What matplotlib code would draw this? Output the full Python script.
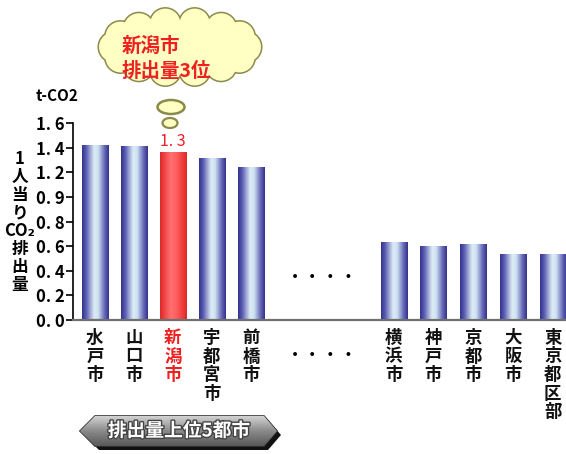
import numpy as np
import matplotlib.pyplot as plt
from matplotlib.colors import LinearSegmentedColormap
from matplotlib.patches import Ellipse, Circle, Polygon
import matplotlib.patheffects as pe
import matplotlib.transforms as mtransforms

plt.rcParams['font.family'] = ['Noto Sans CJK JP', 'DejaVu Sans']

# データ
cities_top = ['水戸市', '山口市', '新潟市', '宇都宮市', '前橋市']
cities_low = ['横浜市', '神戸市', '京都市', '大阪市', '東京都区部']
values_top = [1.42, 1.41, 1.36, 1.31, 1.24]
values_low = [0.63, 0.60, 0.61, 0.53, 0.53]
highlight = '新潟市'
highlight_label = '1. 3'
yticks = [0.0, 0.2, 0.4, 0.6, 0.8, 1.0, 1.2, 1.4, 1.6]
ytick_labels = ['0. 0', '0. 2', '0. 4', '0. 6', '0. 8', '0. 9', '1. 2', '1. 4', '1. 6']

# 位置
pos_top = np.arange(5)
pos_low = np.arange(5) * 1.02 + 7.66
cities = cities_top + cities_low
values = values_top + values_low
pos = np.concatenate([pos_top, pos_low])

fig = plt.figure(figsize=(5.66, 4.54), dpi=100)
ax = fig.add_axes([0.129, 0.295, 0.871, 0.434])

blue_cm = LinearSegmentedColormap.from_list('b', [
    (0.0, '#34348c'), (0.15, '#5a5cb2'), (0.45, '#dcecf6'),
    (0.6, '#cfe2f2'), (0.85, '#6466b6'), (1.0, '#34348c')])
red_cm = LinearSegmentedColormap.from_list('r', [
    (0.0, '#e02828'), (0.4, '#ff7070'), (0.6, '#ff6060'), (1.0, '#e02828')])
grad = np.linspace(0, 1, 64).reshape(1, -1)

bars = ax.bar(pos, values, width=0.67, color='none', zorder=2)
for b, name in zip(bars, cities):
    cm = red_cm if name == highlight else blue_cm
    ax.imshow(grad, cmap=cm, aspect='auto', zorder=2,
              extent=[b.get_x(), b.get_x() + b.get_width(), 0, b.get_height()])

ax.set_xlim(-0.56, 12.08)
ax.set_ylim(0, 1.6)

# 軸
for s in ['top', 'right']:
    ax.spines[s].set_visible(False)
ax.spines['bottom'].set_color('#707070')
ax.spines['bottom'].set_linewidth(1.6)
ax.spines['left'].set_linewidth(1.2)
ax.set_xticks([])
ax.set_yticks(yticks)
ax.set_yticklabels(ytick_labels, fontsize=12, fontweight='bold')
ax.tick_params(axis='y', length=5, width=1.2, pad=1)

# x ラベル(縦書き)
trans = mtransforms.blended_transform_factory(ax.transData, ax.transAxes)
for p, name in zip(pos, cities):
    ax.text(p, -0.045, '\n'.join(name), transform=trans, ha='center', va='top',
            fontsize=12.5, fontweight='bold', linespacing=1.04,
            color='#ee2020' if name == highlight else '#111111', clip_on=False)

# 値ラベル
hi = cities.index(highlight)
ax.text(pos[hi], values[hi] + 0.02, highlight_label, ha='center', va='bottom',
        fontsize=11.5, color='#ee2020')

# 省略記号
mid = (pos_top[-1] + pos_low[0]) / 2
ax.text(mid, 0.34, '・・・・', ha='center', va='center', fontsize=13)
ax.text(mid, -0.29, '・・・・', ha='center', va='center', fontsize=13, clip_on=False)

# y 軸タイトル
fig.text(20 / 566, 1 - 222 / 454, '1\n人\n当\nり\nCO₂\n排\n出\n量', ha='center', va='center',
         fontsize=12, fontweight='bold', linespacing=1.0)
fig.text(57 / 566, 1 - 96 / 454, 't-CO2', ha='center', va='center',
         fontsize=11, fontweight='bold')

# 吹き出し・バナー用オーバーレイ(ピクセル座標)
ov = fig.add_axes([0, 0, 1, 1], zorder=5)
ov.set_xlim(0, 566)
ov.set_ylim(454, 0)
ov.axis('off')
ov.patch.set_alpha(0)

cloud_fill = '#ffffc4'
cloud_edge = '#8a8a4a'
cx, cy, rx, ry = 180, 47, 66, 24
bumps = []
for t in np.linspace(0, 2 * np.pi, 14, endpoint=False):
    bumps.append((cx + rx * np.cos(t), cy + ry * np.sin(t)))
for (x, y) in bumps:
    ov.add_patch(Circle((x, y), 15, fc=cloud_fill, ec=cloud_edge, lw=2.2, zorder=1))
for (x, y) in bumps:
    ov.add_patch(Circle((x, y), 15, fc=cloud_fill, ec='none', zorder=2))
ov.add_patch(Ellipse((cx, cy), 2 * rx, 2 * ry, fc=cloud_fill, ec='none', zorder=2))
ov.add_patch(Ellipse((171, 107), 27, 14, fc=cloud_fill, ec=cloud_edge, lw=1.8, zorder=2))
ov.add_patch(Ellipse((170, 123), 15, 10, fc=cloud_fill, ec=cloud_edge, lw=1.6, zorder=2))
ov.text(122, 46, '新潟市', ha='left', va='center', fontsize=14, fontweight='bold',
        color='#ee2020', zorder=3)
ov.text(122, 71, '排出量3位', ha='left', va='center', fontsize=14, fontweight='bold',
        color='#ee2020', zorder=3)

hexpts = np.array([(80, 431), (95, 416), (264, 416), (277, 431), (264, 446), (95, 446)])
ov.add_patch(Polygon(hexpts + [4, 4], closed=True, fc='#111111', ec='none', zorder=1))
banner = Polygon(hexpts, closed=True, fc='#7a7a7a', ec='#333333', lw=1.2, zorder=2)
ov.add_patch(banner)
vgrad = np.linspace(0, 1, 32).reshape(-1, 1)
gcm = LinearSegmentedColormap.from_list('g', ['#d0d0d0', '#8a8a8a', '#5a5a5a'])
im = ov.imshow(vgrad, cmap=gcm, aspect='auto', extent=[80, 277, 446, 416], zorder=2)
im.set_clip_path(banner)
ov.set_xlim(0, 566)
ov.set_ylim(454, 0)
ov.text(179, 431, '排出量上位5都市', ha='center', va='center', fontsize=13.5, fontweight='bold',
        color='white', zorder=3,
        path_effects=[pe.withStroke(linewidth=2, foreground='#444444')])

fig.savefig('out.png', dpi=100)
